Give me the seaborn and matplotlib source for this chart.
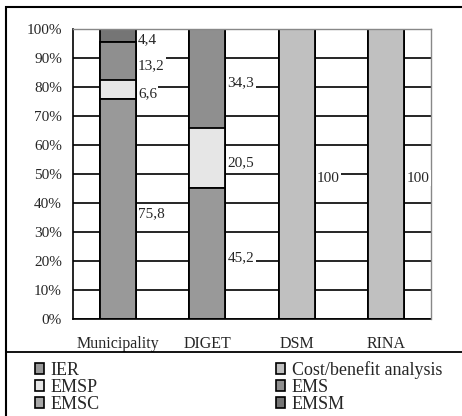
import matplotlib
matplotlib.use("Agg")
import matplotlib.pyplot as plt
import seaborn as sns
import numpy as np
import pandas as pd
from matplotlib.patches import Patch, Rectangle
from matplotlib.lines import Line2D

categories = ["Municipality", "DIGET", "DSM", "RINA"]
series = ["IER", "Cost/benefit analysis", "EMSP", "EMS", "EMSC", "EMSM"]
IER = [75.8, 45.2, 0, 0]
COST = [0, 0, 100, 100]
EMSP = [6.6, 20.5, 0, 0]
EMS = [13.2, 34.3, 0, 0]
EMSC = [0, 0, 0, 0]
EMSM = [4.4, 0, 0, 0]
values = [IER, COST, EMSP, EMS, EMSC, EMSM]
colors = ["#999999", "#c0c0c0", "#e6e6e6", "#8f8f8f", "#a8a8a8", "#757575"]
yticks = [0, 10, 20, 30, 40, 50, 60, 70, 80, 90, 100]

sns.set_style("white")
plt.rcParams["font.family"] = ["Liberation Serif", "DejaVu Serif"]

fig = plt.figure(figsize=(4.62, 4.16), dpi=100)
ax = fig.add_axes([73/462, 97/416, 358/462, 290/416])

cum = np.cumsum(np.array(values), axis=0)
# draw cumulative totals from top layer down so lower layers overlay
for i in range(len(series) - 1, -1, -1):
    df = pd.DataFrame({"cat": categories, "val": cum[i]})
    sns.barplot(data=df, x="cat", y="val", order=categories, color=colors[i],
                saturation=1, width=0.4, edgecolor="black", linewidth=1.3,
                ax=ax, zorder=2)

# labels
bottoms = np.vstack([np.zeros(len(categories)), cum[:-1]])
for i in range(len(series)):
    for j, c in enumerate(categories):
        v = values[i][j]
        if v > 0:
            txt = ("%g" % v).replace(".", ",")
            ax.text(j + 0.225, bottoms[i][j] + v / 2 - 1.5, txt, ha="left", va="center",
                    fontsize=11, zorder=5,
                    bbox=dict(facecolor="white", edgecolor="none", pad=1))

ax.set_xlim(-0.5, 3.5)
ax.set_ylim(0, 100)
ax.set_yticks(yticks)
ax.set_yticklabels(["%d%%" % t for t in yticks], fontsize=11)
ax.set_xlabel("")
ax.set_ylabel("")
ax.tick_params(axis="x", which="major", length=0, pad=12, labelsize=11.5)
ax.set_xticks(np.arange(-0.5, 4.0, 1.0), minor=True)
ax.tick_params(axis="x", which="minor", length=4, width=1.2, direction="out", color="black")
ax.tick_params(axis="y", length=5, width=1.2, direction="out", color="black", pad=3)
for t in yticks[:-1]:
    ax.axhline(t, color="black", linewidth=1.2, zorder=1)
for s in ["left", "bottom"]:
    ax.spines[s].set_color("black")
    ax.spines[s].set_linewidth(1.2)
for s in ["top", "right"]:
    ax.spines[s].set_color("#888888")
    ax.spines[s].set_linewidth(1.0)
    ax.spines[s].set_zorder(3)

# outer frame and legend separator
fig.patches.append(Rectangle((6/462, -0.01), 1.0, (416 - 7)/416 + 0.01,
                             transform=fig.transFigure, fill=False,
                             edgecolor="black", linewidth=1.5))
fig.lines.append(Line2D([6/462, 1.0], [(416 - 352)/416] * 2,
                        transform=fig.transFigure, color="black", linewidth=1.3))

handles = [Patch(facecolor=colors[k], edgecolor="black", linewidth=1.2, label=series[k])
           for k in [0, 2, 4, 1, 3, 5]]
fig.legend(handles=handles, ncol=2, loc="upper left", bbox_to_anchor=(35/462, (416 - 361)/416),
           frameon=False, fontsize=13, handlelength=0.5, handleheight=0.5,
           handletextpad=0.35, labelspacing=0.0, columnspacing=9.8, borderpad=0,
           borderaxespad=0)

fig.savefig("out.png", dpi=100)
